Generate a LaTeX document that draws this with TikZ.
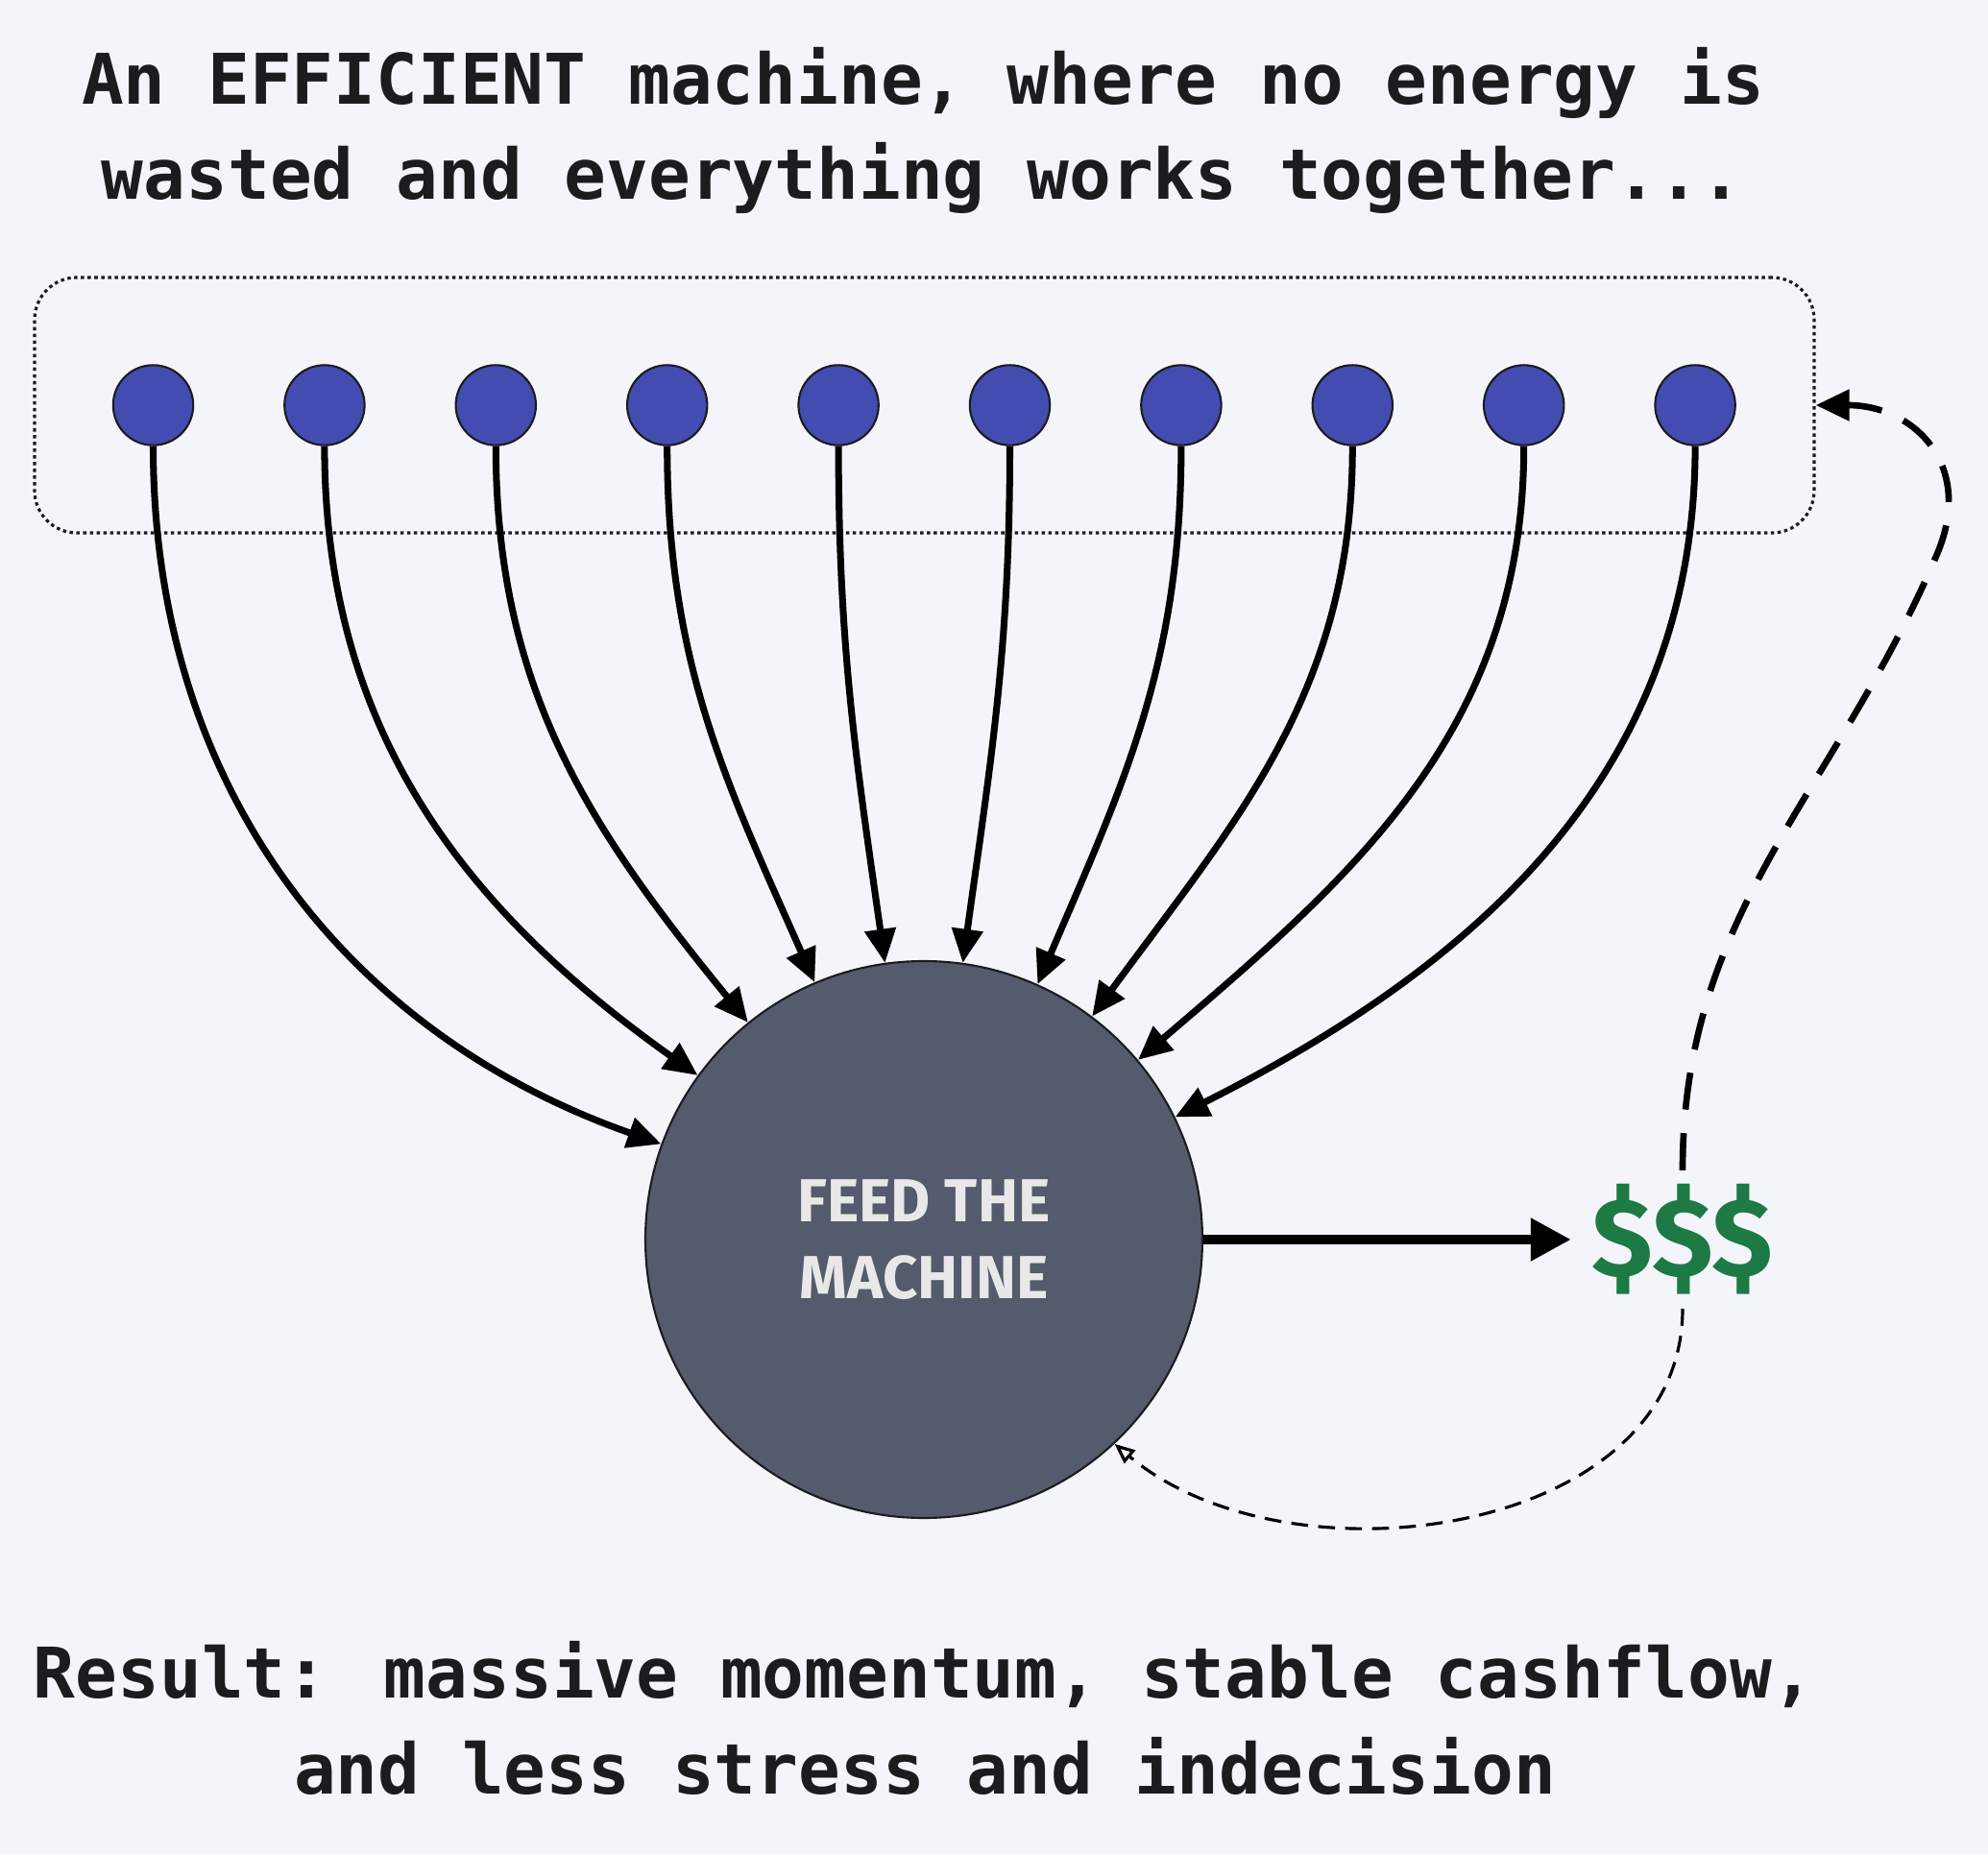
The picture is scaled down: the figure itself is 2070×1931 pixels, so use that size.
\documentclass[tikz,border=0pt]{standalone}
\usepackage{fontspec}
\usepackage{xcolor}
\usetikzlibrary{arrows.meta}
\newfontfamily\monofont{DejaVu Sans Mono}
\newfontfamily\labelfont{Fira Sans}
\definecolor{paper}{RGB}{243,245,250}
\definecolor{dotblue}{RGB}{67,76,177}
\definecolor{machinegray}{RGB}{84,91,108}
\definecolor{cashgreen}{RGB}{30,122,69}
\definecolor{ink}{RGB}{28,28,30}

\begin{document}
\begin{tikzpicture}[x=0.1mm,y=0.1mm,
  arr/.style={-{Triangle[length=10pt,width=9pt]},line width=2pt,draw=black},
  dot/.style={circle,draw=ink,line width=0.6pt,fill=dotblue,minimum size=8.34mm,inner sep=0pt},
  caption/.style={anchor=base,text=ink,font=\monofont\bfseries\fontsize{20.7}{28}\selectfont}]

  % page
  \fill[paper] (0,0) rectangle (2070,1931);
  \useasboundingbox (0,0) rectangle (2070,1931);

  % headline
  \node[caption] (head1) at (961,1822) {An EFFICIENT machine, where no energy is};
  \node[caption] (head2) at (960,1723) {wasted and everything works together...};

  % group of parts
  \node[draw=ink,line width=0.9pt,dash pattern=on 1pt off 1pt,rounded corners=4.4mm,
        minimum width=185.3mm,minimum height=26.6mm] (group) at (962.5,1509) {};
  \node[dot] (t1)  at (159.5,1509) {};
  \node[dot] (t2)  at (337.9,1509) {};
  \node[dot] (t3)  at (516.3,1509) {};
  \node[dot] (t4)  at (694.7,1509) {};
  \node[dot] (t5)  at (873.1,1509) {};
  \node[dot] (t6)  at (1051.5,1509) {};
  \node[dot] (t7)  at (1229.9,1509) {};
  \node[dot] (t8)  at (1408.3,1509) {};
  \node[dot] (t9)  at (1586.7,1509) {};
  \node[dot] (t10) at (1765.1,1509) {};

  % the machine
  \node[circle,draw=ink,line width=0.6pt,fill=machinegray,minimum size=58mm,inner sep=0pt,
        align=center,text={rgb,255:red,232;green,232;blue,232},
        font=\labelfont\bfseries\fontsize{18}{22.8}\selectfont] (machine) at (962,640)
        {FEED THE\\MACHINE};

  % output
  \node[text=cashgreen,font=\labelfont\bfseries\fontsize{33}{36}\selectfont,
        inner xsep=6pt,inner ysep=4pt] (cash) at (1752,640) {\$\$\$};

  % feeds
  \draw[arr] (t1.south)  to[out=-90,in=160.6] (machine.160.6);
  \draw[arr] (t2.south)  to[out=-90,in=144.6] (machine.144.6);
  \draw[arr] (t3.south)  to[out=-90,in=129.2] (machine.129.2);
  \draw[arr] (t4.south)  to[out=-90,in=113.9] (machine.113.9);
  \draw[arr] (t5.south)  to[out=-90,in=98.1]  (machine.98.1);
  \draw[arr] (t6.south)  to[out=-90,in=82.1]  (machine.82.1);
  \draw[arr] (t7.south)  to[out=-90,in=66.8]  (machine.66.8);
  \draw[arr] (t8.south)  to[out=-90,in=53.7]  (machine.53.7);
  \draw[arr] (t9.south)  to[out=-90,in=40.5]  (machine.40.5);
  \draw[arr] (t10.south) to[out=-90,in=26.7]  (machine.26.7);

  % money out
  \draw[-{Triangle[length=12pt,width=12pt]},line width=3pt] (machine.east) -- (cash.west);

  % feedback loops
  \coordinate (bend) at (2017,1354);
  \draw[-{Triangle[length=10pt,width=9pt]},line width=1.9pt,dash pattern=on 11pt off 7pt]
    (cash.north) to[out=90,in=-113] (bend) to[out=67,in=0,looseness=1.3] (group.east);
  \draw[-{Triangle[open,length=6pt,width=5pt]},line width=0.9pt,dash pattern=on 5pt off 3pt]
    (cash.south) to[out=-90,in=-40] (machine.-47.3);

  % result
  \node[caption] (result1) at (962,163) {Result: massive momentum, stable cashflow,};
  \node[caption] (result2) at (963,63) {and less stress and indecision};

\end{tikzpicture}
\end{document}
